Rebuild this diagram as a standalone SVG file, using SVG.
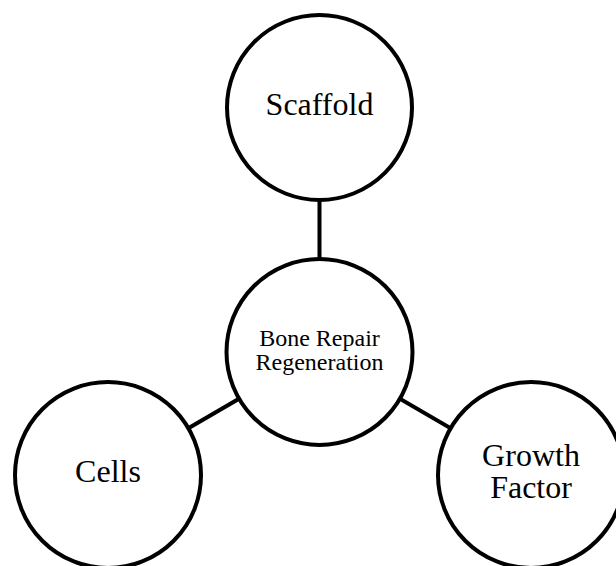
<svg xmlns="http://www.w3.org/2000/svg" width="616" height="566" viewBox="0 0 616 566">
  <style>
    .node circle { fill: #ffffff; stroke: #000000; stroke-width: 4; }
    .node text { font-family: "Liberation Serif", "Times New Roman", serif; fill: #000000; text-anchor: middle; }
    .big { font-size: 32px; }
    .small { font-size: 24px; }
    #connectors line { stroke: #000000; stroke-width: 4; }
  </style>
  <rect width="616" height="566" fill="#ffffff"/>
  <g id="connectors">
    <line x1="319.5" y1="107.5" x2="319.5" y2="352"/>
    <line x1="108" y1="475" x2="319.5" y2="352"/>
    <line x1="531" y1="475" x2="319.5" y2="352"/>
  </g>
  <g id="scaffold" class="node">
    <circle cx="319.5" cy="107.5" r="92.5"/>
    <text class="big" x="319.5" y="115">Scaffold</text>
  </g>
  <g id="bone-repair" class="node">
    <circle cx="319.5" cy="352" r="93"/>
    <text class="small" x="319.5" y="346">Bone Repair</text>
    <text class="small" x="319.5" y="370">Regeneration</text>
  </g>
  <g id="cells" class="node">
    <circle cx="108" cy="475" r="93"/>
    <text class="big" x="108" y="482">Cells</text>
  </g>
  <g id="growth-factor" class="node">
    <circle cx="531" cy="475" r="93"/>
    <text class="big" x="531" y="466">Growth</text>
    <text class="big" x="531" y="498">Factor</text>
  </g>
</svg>
